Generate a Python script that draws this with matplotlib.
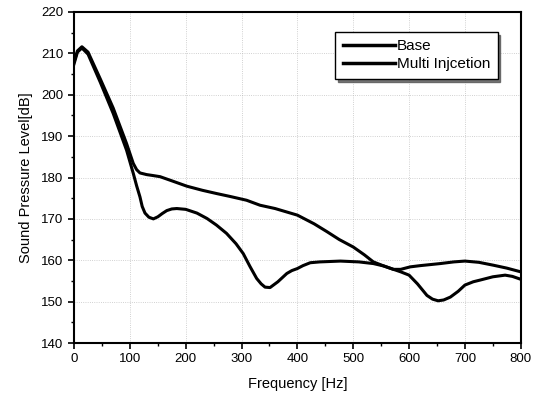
import matplotlib
matplotlib.use("Agg")
import matplotlib.pyplot as plt
from matplotlib.ticker import MultipleLocator

plt.rcParams['font.family'] = ['Liberation Sans', 'DejaVu Sans']

# Base curve (readings from the figure)
base_f = [0, 6, 14, 25, 47, 70, 94, 106, 112, 118, 124, 130, 140, 154, 175, 202,
          230, 256, 280, 309, 333, 360, 400, 430, 453, 475, 500, 520, 536, 555,
          572, 585, 600, 615, 632, 642, 652, 662, 674, 688, 700, 715, 727, 750,
          772, 785, 800]
base_db = [208.0, 210.6, 211.6, 210.3, 203.8, 196.8, 188.2, 183.4, 181.9, 181.1,
           180.9, 180.7, 180.5, 180.2, 179.2, 177.9, 176.9, 176.1, 175.4, 174.5,
           173.3, 172.5, 170.9, 168.8, 166.9, 165.0, 163.2, 161.3, 159.6, 158.6,
           157.8, 157.2, 156.4, 154.3, 151.5, 150.6, 150.2, 150.4, 151.1, 152.5,
           154.0, 154.8, 155.2, 156.0, 156.4, 156.1, 155.4]

# Multi injection curve
multi_f = [0, 6, 14, 25, 47, 70, 94, 106, 112, 118, 122, 127, 134, 142, 150, 158,
           166, 175, 184, 200, 220, 238, 255, 273, 290, 303, 315, 327, 335, 342,
           351, 365, 381, 390, 400, 410, 423, 440, 477, 510, 536, 555, 572, 585,
           602, 620, 656, 680, 700, 725, 751, 775, 800]
multi_db = [207.5, 210.3, 211.3, 209.8, 203.0, 195.5, 186.6, 181.0, 178.0, 175.3,
            173.0, 171.4, 170.4, 170.0, 170.5, 171.3, 172.0, 172.4, 172.5, 172.3,
            171.4, 170.1, 168.5, 166.5, 164.0, 161.6, 158.5, 155.6, 154.3, 153.5,
            153.4, 154.8, 156.8, 157.5, 158.0, 158.7, 159.4, 159.6, 159.8, 159.6,
            159.2, 158.6, 157.8, 157.8, 158.4, 158.7, 159.2, 159.6, 159.8, 159.5,
            158.8, 158.1, 157.2]

fig = plt.figure(figsize=(5.33, 4.0), dpi=100)
ax = fig.add_axes([0.139, 0.1425, 0.838, 0.8275])

ax.plot(base_f, base_db, color='black', linewidth=2.2, label='Base')
ax.plot(multi_f, multi_db, color='black', linewidth=2.2, label='Multi Injcetion')

ax.set_xlim(0, 800)
ax.set_ylim(140, 220)
ax.xaxis.set_major_locator(MultipleLocator(100))
ax.xaxis.set_minor_locator(MultipleLocator(50))
ax.yaxis.set_major_locator(MultipleLocator(10))
ax.yaxis.set_minor_locator(MultipleLocator(5))
ax.tick_params(which='major', direction='out', length=4, width=1.2, labelsize=9.5)
ax.tick_params(which='minor', direction='out', length=2, width=1)
for s in ax.spines.values():
    s.set_linewidth(1.5)

ax.grid(True, which='major', color='#999999', linestyle=':', linewidth=0.6, alpha=0.6)

ax.set_xlabel('Frequency [Hz]', fontsize=10.5, labelpad=8)
ax.set_ylabel('Sound Pressure Level[dB]', fontsize=10.5, labelpad=6)

leg = ax.legend(loc='upper right', bbox_to_anchor=(0.948, 0.94), fontsize=11,
                frameon=True, fancybox=False, shadow={'color': '#555555', 'alpha': 0.8},
                edgecolor='black', framealpha=1, handlelength=3.4, handletextpad=0.1,
                labelspacing=0.25, borderpad=0.5, borderaxespad=0)
leg.get_frame().set_linewidth(1.0)
for line in leg.get_lines():
    line.set_linewidth(2.5)

fig.savefig('out.png', dpi=100)
